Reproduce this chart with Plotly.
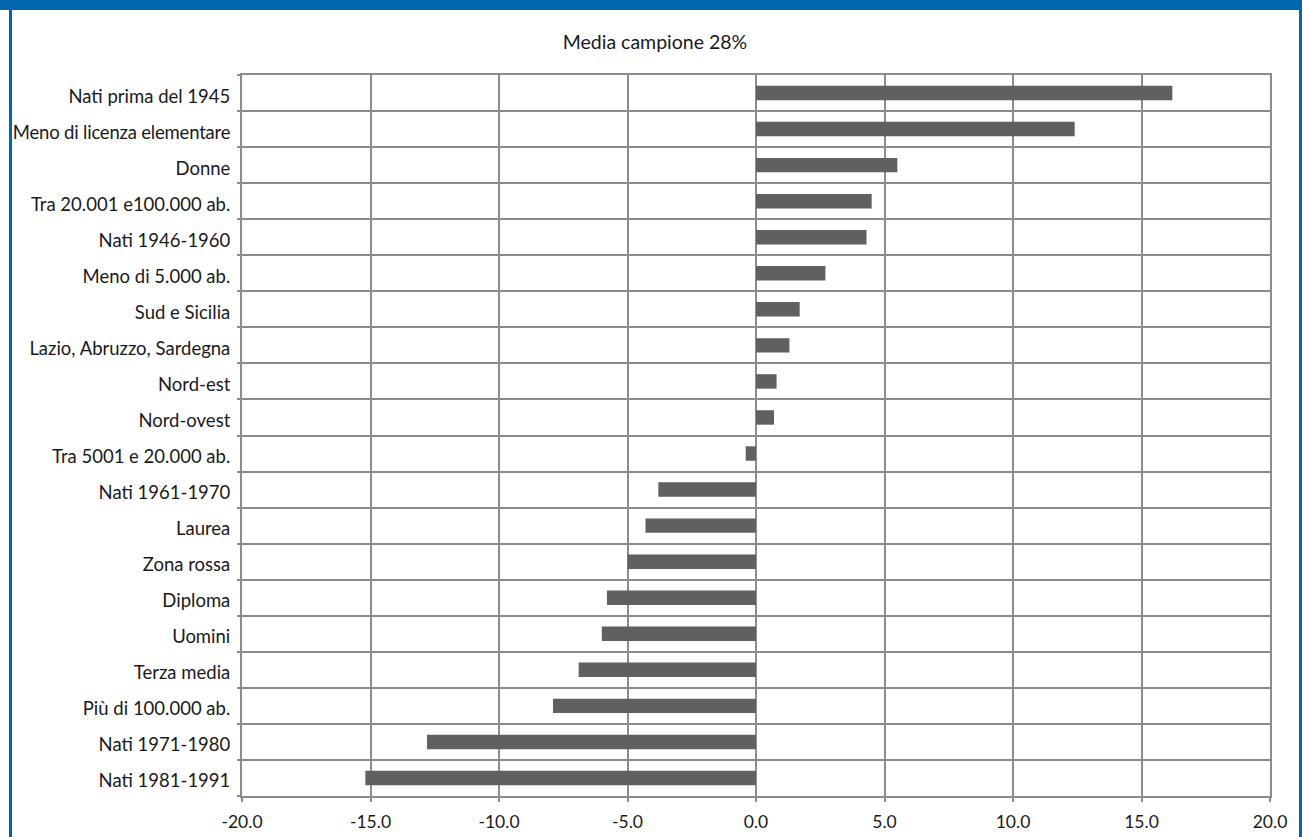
import plotly.graph_objects as go

categories = [
    "Nati prima del 1945",
    "Meno di licenza elementare",
    "Donne",
    "Tra 20.001 e100.000 ab.",
    "Nati 1946-1960",
    "Meno di 5.000 ab.",
    "Sud e Sicilia",
    "Lazio, Abruzzo, Sardegna",
    "Nord-est",
    "Nord-ovest",
    "Tra 5001 e 20.000 ab.",
    "Nati 1961-1970",
    "Laurea",
    "Zona rossa",
    "Diploma",
    "Uomini",
    "Terza media",
    "Più di 100.000 ab.",
    "Nati 1971-1980",
    "Nati 1981-1991",
]
values = [16.2, 12.4, 5.5, 4.5, 4.3, 2.7, 1.7, 1.3, 0.8, 0.7,
          -0.4, -3.8, -4.3, -5.0, -5.8, -6.0, -6.9, -7.9, -12.8, -15.2]
x_ticks = [-20, -15, -10, -5, 0, 5, 10, 15, 20]
title_text = "Media campione 28%"

n = len(categories)
ypos = [n - 1 - i for i in range(n)]
ticktext = []
for c in categories:
    if c == "Meno di licenza elementare":
        ticktext.append("<span style='font-family:Lato;letter-spacing:-0.2px'>" + c + "</span>")
    else:
        ticktext.append(c)

GRID = "#8c8c8c"
BLUE = "#0067AC"

fig = go.Figure()
fig.add_trace(go.Bar(
    x=values, y=ypos, orientation="h", width=0.4,
    marker=dict(color="#606060", line=dict(width=0)),
    hoverinfo="x+y",
))

W, H = 1302, 837
ml, mr, mt, mb = 242, 32, 75, 41
pw, ph = W - ml - mr, H - mt - mb

def px_x(px):
    return (px - ml) / pw

def px_y(py):
    return (H - mb - py) / ph

shapes = [
    dict(type="rect", xref="paper", yref="paper", x0=px_x(-5), x1=px_x(W + 5),
         y0=px_y(10), y1=px_y(-5), fillcolor=BLUE, line=dict(width=0), layer="above"),
    dict(type="rect", xref="paper", yref="paper", x0=px_x(9), x1=px_x(12),
         y0=px_y(H + 5), y1=px_y(5), fillcolor=BLUE, line=dict(width=0), layer="above"),
    dict(type="rect", xref="paper", yref="paper", x0=px_x(W - 3), x1=px_x(W + 5),
         y0=px_y(H + 5), y1=px_y(5), fillcolor=BLUE, line=dict(width=0), layer="above"),
]

fig.update_layout(
    width=W, height=H,
    margin=dict(l=ml, r=mr, t=mt, b=mb, pad=0, autoexpand=False),
    paper_bgcolor="white", plot_bgcolor="white",
    font=dict(family="Lato, Open Sans, sans-serif", size=18.5, color="#1a1a1a"),
    title=dict(text=title_text, x=655 / W, xref="container", xanchor="center",
               y=1 - 42 / H, yanchor="middle",
               font=dict(size=19.5, color="#1a1a1a")),
    showlegend=False,
    shapes=shapes,
    xaxis=dict(
        range=[-20, 20], tickvals=x_ticks,
        ticktext=[f"{v:.1f}" for v in x_ticks],
        showgrid=True, gridcolor=GRID, gridwidth=2,
        zeroline=True, zerolinecolor=GRID, zerolinewidth=2,
        showline=True, linecolor=GRID, linewidth=2, mirror=True,
        ticks="outside", ticklen=4, tickwidth=2, tickcolor=GRID,
        ticklabelstandoff=5, automargin=False,
        layer="above traces",
        tickfont=dict(size=17.5),
    ),
    yaxis=dict(
        range=[-0.5, n - 0.5], tickvals=ypos, ticktext=ticktext,
        showgrid=False, zeroline=False, automargin=False,
        showline=True, linecolor=GRID, linewidth=2, mirror=True,
        ticks="", ticklabelstandoff=6, ticklabelshift=3,
        minor=dict(tickvals=[i + 0.5 for i in range(-1, n)], showgrid=True,
                   gridcolor=GRID, gridwidth=2, ticks="outside", ticklen=3,
                   tickwidth=2, tickcolor=GRID),
        tickfont=dict(size=18.5),
    ),
)

fig.write_html("out.html")
